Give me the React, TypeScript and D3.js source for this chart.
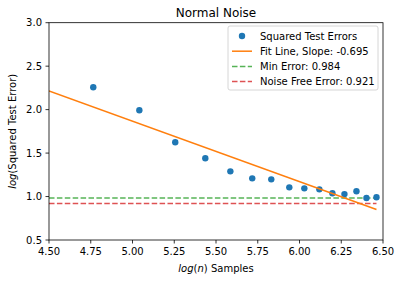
import * as d3 from 'd3';

// log(n) sample sizes and the log squared test error at each
const logN = [4.765, 5.041, 5.256, 5.436, 5.586, 5.717, 5.831, 5.939, 6.029, 6.119, 6.197, 6.269, 6.341, 6.401, 6.461];
const logErr = [2.257, 1.992, 1.624, 1.440, 1.290, 1.209, 1.198, 1.106, 1.094, 1.083, 1.037, 1.028, 1.060, 0.984, 0.991];

const fitX = [4.5, 6.461];
const fitY = [2.214, 0.851];
const minError = 0.984;
const noiseFreeError = 0.921;

const xTicks = [4.5, 4.75, 5.0, 5.25, 5.5, 5.75, 6.0, 6.25, 6.5];
const yTicks = [0.5, 1.0, 1.5, 2.0, 2.5, 3.0];

const legendItems = [
    { label: "Squared Test Errors", kind: "dot", color: "#1f77b4" },
    { label: "Fit Line, Slope: -0.695", kind: "line", color: "#ff7f0e" },
    { label: "Min Error: 0.984", kind: "dash", color: "#2ca02c" },
    { label: "Noise Free Error: 0.921", kind: "dash", color: "#d62728" },
];

const W = 401, H = 282;
const margin = { top: 22.7, right: 18, bottom: 42, left: 49 };
const font = "'DejaVu Sans', sans-serif";

export default function App() {
    const width = W - margin.left - margin.right;
    const height = H - margin.top - margin.bottom;

    const xScale = d3.scaleLinear().domain([4.5, 6.5]).range([0, width]);
    const yScale = d3.scaleLinear().domain([0.5, 3.0]).range([height, 0]);

    const line = d3.line<[number, number]>()
        .x((d) => xScale(d[0]))
        .y((d) => yScale(d[1]));

    const fitData: [number, number][] = fitX.map((x, i) => [x, fitY[i]]);
    const hEnd = logN[logN.length - 1];

    return (
        <svg width={W} height={H} style={{ position: "absolute", left: 0, top: 0, fontFamily: font }}>
            <rect width={W} height={H} fill="white" />
            <text x={margin.left + width / 2} y={17} textAnchor="middle" fontSize={12}>Normal Noise</text>
            <g transform={"translate(" + margin.left + "," + margin.top + ")"}>
                <defs>
                    <clipPath id="plot-clip"><rect width={width} height={height} /></clipPath>
                </defs>
                <g clipPath="url(#plot-clip)">
                    <path d={line([[4.5, minError], [hEnd, minError]]) || ""} stroke="#2ca02c" strokeOpacity={0.8} strokeWidth={1.5} strokeDasharray="5.5,2.4" fill="none" />
                    <path d={line([[4.5, noiseFreeError], [hEnd, noiseFreeError]]) || ""} stroke="#d62728" strokeOpacity={0.8} strokeWidth={1.5} strokeDasharray="5.5,2.4" fill="none" />
                    {logN.map((x, i) => (
                        <circle key={i} cx={xScale(x)} cy={yScale(logErr[i])} r={3.2} fill="#1f77b4" />
                    ))}
                    <path d={line(fitData) || ""} stroke="#ff7f0e" strokeWidth={1.5} fill="none" />
                </g>
                <rect width={width} height={height} fill="none" stroke="black" strokeWidth={0.8} />
                {xTicks.map((t) => (
                    <g key={t} transform={"translate(" + xScale(t) + "," + height + ")"}>
                        <line y2={3.5} stroke="black" strokeWidth={0.8} />
                        <text y={14.5} textAnchor="middle" fontSize={10}>{t.toFixed(2)}</text>
                    </g>
                ))}
                {yTicks.map((t) => (
                    <g key={t} transform={"translate(0," + yScale(t) + ")"}>
                        <line x2={-3.5} stroke="black" strokeWidth={0.8} />
                        <text x={-7} dy="0.35em" textAnchor="end" fontSize={10}>{t.toFixed(1)}</text>
                    </g>
                ))}
                <text x={width / 2} y={height + 32} textAnchor="middle" fontSize={10}>
                    <tspan fontStyle="italic">log</tspan>(<tspan fontStyle="italic">n</tspan>) Samples
                </text>
                <text transform={"translate(-33," + height / 2 + ") rotate(-90)"} textAnchor="middle" fontSize={10}>
                    <tspan fontStyle="italic">log</tspan>(Squared Test Error)
                </text>
                <g transform={"translate(" + (228 - margin.left) + "," + (26 - margin.top) + ")"}>
                    <rect width={150} height={64} rx={2} fill="white" fillOpacity={0.8} stroke="#cccccc" strokeWidth={0.8} />
                    {legendItems.map((d, i) => {
                        const y = 10 + i * 15.2;
                        return (
                            <g key={d.label} transform={"translate(0," + y + ")"}>
                                {d.kind === "dot" ? (
                                    <circle cx={14} cy={0} r={3.2} fill={d.color} />
                                ) : (
                                    <line x1={4} x2={24} stroke={d.color} strokeWidth={1.5}
                                        strokeOpacity={d.kind === "dash" ? 0.8 : 1}
                                        strokeDasharray={d.kind === "dash" ? "5.5,2.4" : undefined} />
                                )}
                                <text x={32} dy="0.35em" fontSize={10}>{d.label}</text>
                            </g>
                        );
                    })}
                </g>
            </g>
        </svg>
    );
}
